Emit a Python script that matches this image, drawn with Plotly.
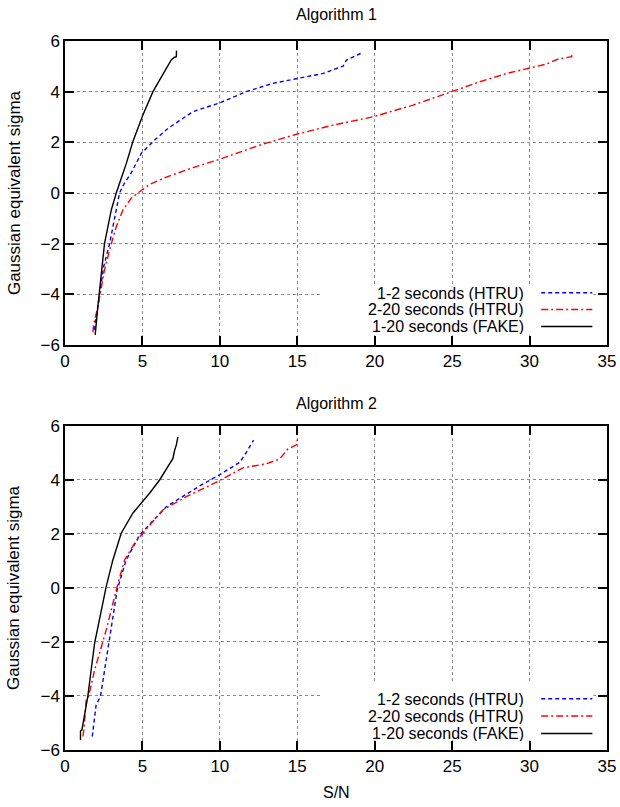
import plotly.graph_objects as go

# ---------------- data ----------------
# Algorithm 1
a1_htru12_x = [1.9, 2.1, 2.5, 2.88, 3.2, 3.52, 3.8, 4.28, 4.93, 5.79, 6.65, 7.4, 8.26, 9.99, 11.71, 13.43, 14.95, 16.67, 17.96, 18.18, 19.21]
a1_htru12_y = [-5.4, -4.5, -2.9, -2.0, -0.94, 0.0, 0.35, 0.8, 1.57, 2.09, 2.55, 2.85, 3.21, 3.56, 4.0, 4.33, 4.51, 4.72, 5.01, 5.25, 5.54]

a1_htru220_x = [1.8, 1.85, 2.12, 2.55, 2.99, 3.31, 3.74, 4.28, 4.7, 5.5, 6.5, 7.5, 8.5, 9.99, 12.57, 14.95, 17.31, 19.9, 22.48, 24.96, 26.79, 28.52, 30.03, 31.1, 31.86, 32.72, 32.75]
a1_htru220_y = [-5.5, -5.2, -4.49, -3.04, -2.0, -1.33, -0.67, -0.21, 0.0, 0.35, 0.62, 0.85, 1.05, 1.33, 1.89, 2.32, 2.68, 3.01, 3.47, 4.0, 4.39, 4.72, 4.92, 5.09, 5.29, 5.38, 5.51]

a1_fake_x = [1.95, 2.12, 2.55, 2.99, 3.31, 3.96, 4.38, 5.03, 5.68, 6.43, 6.86, 7.05, 7.19, 7.2]
a1_fake_y = [-5.6, -4.49, -2.0, -0.67, 0.0, 1.17, 2.02, 3.08, 4.0, 4.79, 5.25, 5.35, 5.38, 5.62]

# Algorithm 2
a2_htru12_x = [1.76, 2.01, 2.29, 2.55, 2.88, 3.09, 3.37, 3.95, 4.82, 6.54, 7.83, 8.7, 9.99, 11.28, 11.71, 12.18]
a2_htru12_y = [-5.5, -4.33, -4.02, -3.04, -1.93, -1.06, -0.07, 1.04, 1.96, 3.01, 3.47, 3.78, 4.2, 4.65, 5.02, 5.48]

a2_htru220_x = [1.15, 1.22, 1.37, 1.52, 1.91, 2.34, 2.66, 2.99, 3.31, 3.85, 4.49, 5.03, 6.32, 7.83, 8.7, 9.99, 11.49, 13.0, 13.87, 14.4, 14.95, 15.0]
a2_htru220_y = [-5.5, -5.26, -4.15, -4.03, -3.04, -2.23, -1.56, -0.81, -0.07, 1.04, 1.65, 2.03, 2.89, 3.38, 3.62, 3.98, 4.45, 4.6, 4.78, 5.15, 5.3, 5.5]

a2_fake_x = [1.0, 1.0, 1.09, 1.47, 1.91, 2.66, 3.09, 3.63, 4.38, 5.46, 6.11, 6.75, 6.97, 7.08, 7.19, 7.29]
a2_fake_y = [-5.63, -5.3, -5.26, -4.02, -2.05, 0.05, 1.04, 2.03, 2.77, 3.51, 4.0, 4.62, 4.8, 5.1, 5.3, 5.6]

series_names = ["1-2 seconds (HTRU)", "2-20 seconds (HTRU)", "1-20 seconds (FAKE)"]
x_ticks = [0, 5, 10, 15, 20, 25, 30, 35]
y_ticks = [-6, -4, -2, 0, 2, 4, 6]
titles = ["Algorithm 1", "Algorithm 2"]

# ---------------- styles ----------------
colors = ["#0000ff", "#ff0000", "#000000"]
dashes = ["4px,3px", "7px,3px,2px,3px", "solid"]
FONT = "Liberation Sans, Arial, Helvetica, sans-serif"
FS = 17
LFS = 16

fig = go.Figure()

data_sets = [
    [(a1_htru12_x, a1_htru12_y), (a1_htru220_x, a1_htru220_y), (a1_fake_x, a1_fake_y)],
    [(a2_htru12_x, a2_htru12_y), (a2_htru220_x, a2_htru220_y), (a2_fake_x, a2_fake_y)],
]
axes = [("x", "y"), ("x2", "y2")]

for (xa, ya), series in zip(axes, data_sets):
    for i, (xs, ys) in enumerate(series):
        fig.add_trace(go.Scatter(
            x=xs, y=ys, mode="lines", xaxis=xa, yaxis=ya,
            line=dict(color=colors[i], width=1.4, dash=dashes[i]),
            showlegend=False, hoverinfo="skip",
        ))

common = dict(ticks="inside", ticklen=9, tickwidth=1.5, automargin=False,
              tickcolor="black", showline=True, linecolor="black", linewidth=1.5, mirror="ticks",
              showgrid=True, gridcolor="#8a8a8a", griddash="dot", gridwidth=1, zeroline=False,
              tickfont=dict(family=FONT, size=FS, color="black"))
common_x = dict(common, range=[0, 35], tickvals=x_ticks)
common_y = dict(common, range=[-6, 6], tickvals=y_ticks)

fig.update_layout(
    width=620, height=807, autosize=False,
    margin=dict(l=65, r=13, t=41, b=57, pad=0, autoexpand=False),
    paper_bgcolor="white", plot_bgcolor="white",
    xaxis=dict(common_x, domain=[0, 1], anchor="y"),
    yaxis=dict(common_y, domain=[0.5712, 1], anchor="x"),
    xaxis2=dict(common_x, domain=[0, 1], anchor="y2"),
    yaxis2=dict(common_y, domain=[0, 0.457], anchor="x2"),
    showlegend=False,
)

annotations = []
shapes = []
# subplot titles
for t, yp in zip(titles, [1.0367, 0.4894]):
    annotations.append(dict(text=t, xref="paper", yref="paper", x=0.5, y=yp,
                            xanchor="center", yanchor="middle", showarrow=False,
                            font=dict(family=FONT, size=16, color="black")))
# axis titles
for yp in [0.7856, 0.2285]:
    annotations.append(dict(text="Gaussian equivalent sigma", xref="paper", yref="paper",
                            x=-0.094, y=yp, xanchor="center", yanchor="middle", textangle=-90,
                            showarrow=False, font=dict(family=FONT, size=FS, color="black")))
annotations.append(dict(text="S/N", xref="paper", yref="paper", x=0.5, y=-0.0606,
                        xanchor="center", yanchor="middle", showarrow=False,
                        font=dict(family=FONT, size=16, color="black")))

# gnuplot-style key: text right-aligned, sample line to the right
legend_rows = {"y": [0.172, 0.117, 0.061], "y2": [0.158, 0.105, 0.051]}
box = {"y": (0.032, 0.197), "y2": (0.03, 0.204)}
for xa, ya in [("x", "y"), ("x2", "y2")]:
    xr, yr = f"{xa} domain", f"{ya} domain"
    shapes.append(dict(type="rect", xref=xr, yref=yr, x0=0.4737, x1=0.975,
                       y0=box[ya][0], y1=box[ya][1],
                       fillcolor="white", line=dict(width=0), layer="above"))
    for i, name in enumerate(series_names):
        yy = legend_rows[ya][i]
        annotations.append(dict(text=name, xref=xr, yref=yr, x=0.849, y=yy, xanchor="right",
                                yanchor="middle", showarrow=False, borderpad=0, height=16,
                                font=dict(family=FONT, size=LFS, color="black")))
        shapes.append(dict(type="line", xref=xr, yref=yr, x0=0.8786, x1=0.973, y0=yy, y1=yy,
                           line=dict(color=colors[i], width=1.4, dash=dashes[i]), layer="above"))

fig.update_layout(annotations=annotations, shapes=shapes)
fig.write_html("out.html")
